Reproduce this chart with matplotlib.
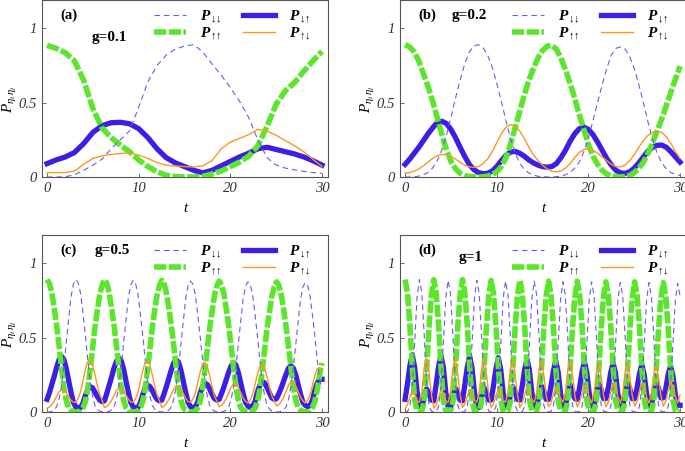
import numpy as np
import matplotlib
matplotlib.use("Agg")
import matplotlib.pyplot as plt

plt.rcParams['font.family'] = ['Liberation Serif', 'DejaVu Serif']
plt.rcParams['mathtext.fontset'] = 'custom'
plt.rcParams['mathtext.rm'] = 'Liberation Serif'
plt.rcParams['mathtext.it'] = 'Liberation Serif:italic'
plt.rcParams['mathtext.bf'] = 'Liberation Serif:bold'
plt.rcParams['mathtext.bfit'] = 'Liberation Serif:bold:italic'

# %% data
# panel (a), g=0.1
t_a = np.arange(0, 31, 1.0)
pdd_a = [0.0, 0.0, 0.002, 0.015, 0.045, 0.08, 0.12, 0.19, 0.25, 0.31, 0.47, 0.64, 0.75, 0.82, 0.86, 0.88,
         0.89, 0.84, 0.76, 0.685, 0.60, 0.51, 0.40, 0.25, 0.13, 0.08, 0.06, 0.048, 0.038, 0.03, 0.025]
puu_a = [0.885, 0.865, 0.835, 0.78, 0.65, 0.46, 0.33, 0.265, 0.215, 0.17, 0.115, 0.07, 0.035, 0.012, 0.003, 0.0,
         0.0, 0.005, 0.02, 0.04, 0.07, 0.10, 0.14, 0.21, 0.34, 0.49, 0.58, 0.635, 0.71, 0.78, 0.845]
pdu_a = [0.09, 0.115, 0.135, 0.165, 0.225, 0.30, 0.345, 0.365, 0.368, 0.358, 0.325, 0.265, 0.19, 0.13, 0.095, 0.07,
         0.045, 0.028, 0.045, 0.075, 0.105, 0.135, 0.16, 0.19, 0.20, 0.185, 0.17, 0.155, 0.135, 0.11, 0.08]
pud_a = [0.03, 0.03, 0.03, 0.04, 0.085, 0.125, 0.143, 0.152, 0.158, 0.162, 0.148, 0.125, 0.097, 0.08, 0.074, 0.07,
         0.068, 0.075, 0.11, 0.19, 0.235, 0.26, 0.285, 0.32, 0.31, 0.28, 0.245, 0.21, 0.17, 0.12, 0.07]

# panel (b), g=0.2
t_b = np.arange(0, 30.5, 0.5)
pdd_b = [0.0, 0.0, 0.002, 0.006, 0.015, 0.03, 0.06, 0.11, 0.18, 0.28, 0.40, 0.53, 0.65, 0.76, 0.84, 0.88,
         0.89, 0.87, 0.82, 0.74, 0.63, 0.51, 0.38, 0.26, 0.16, 0.095, 0.05, 0.027, 0.013, 0.005, 0.002, 0.0,
         0.0, 0.002, 0.006, 0.015, 0.03, 0.06, 0.10, 0.17, 0.26, 0.38, 0.50, 0.62, 0.73, 0.82, 0.865, 0.875,
         0.86, 0.81, 0.73, 0.62, 0.50, 0.37, 0.25, 0.16, 0.095, 0.055, 0.03, 0.018, 0.01]
puu_b = [0.89, 0.875, 0.84, 0.78, 0.695, 0.61, 0.51, 0.40, 0.29, 0.185, 0.105, 0.055, 0.025, 0.01, 0.004, 0.001,
         0.0, 0.002, 0.006, 0.015, 0.035, 0.07, 0.13, 0.22, 0.33, 0.44, 0.55, 0.65, 0.73, 0.80, 0.85, 0.88,
         0.885, 0.86, 0.80, 0.72, 0.63, 0.53, 0.42, 0.32, 0.22, 0.14, 0.085, 0.045, 0.02, 0.008, 0.003, 0.001,
         0.003, 0.01, 0.03, 0.06, 0.10, 0.16, 0.23, 0.31, 0.39, 0.48, 0.57, 0.66, 0.745]
pdu_b = [0.085, 0.12, 0.16, 0.20, 0.245, 0.29, 0.33, 0.365, 0.375, 0.36, 0.32, 0.265, 0.20, 0.14, 0.085, 0.05,
         0.03, 0.022, 0.025, 0.04, 0.07, 0.11, 0.145, 0.168, 0.172, 0.16, 0.14, 0.115, 0.095, 0.08, 0.07, 0.066,
         0.07, 0.09, 0.13, 0.18, 0.24, 0.29, 0.325, 0.335, 0.32, 0.285, 0.235, 0.18, 0.125, 0.08, 0.045, 0.028,
         0.025, 0.035, 0.06, 0.095, 0.135, 0.175, 0.20, 0.213, 0.215, 0.20, 0.17, 0.135, 0.10]
pud_b = [0.025, 0.03, 0.04, 0.055, 0.075, 0.10, 0.125, 0.143, 0.152, 0.15, 0.14, 0.12, 0.10, 0.08, 0.068, 0.065,
         0.07, 0.09, 0.12, 0.17, 0.23, 0.29, 0.335, 0.352, 0.345, 0.31, 0.26, 0.20, 0.15, 0.11, 0.08, 0.055,
         0.04, 0.035, 0.04, 0.06, 0.09, 0.13, 0.165, 0.185, 0.19, 0.18, 0.16, 0.135, 0.11, 0.085, 0.07, 0.068,
         0.08, 0.11, 0.15, 0.20, 0.245, 0.28, 0.30, 0.31, 0.30, 0.27, 0.225, 0.17, 0.125]

# panel (c), g=0.5
t_c = np.linspace(0, 30, 116)
pdd_c = [0.0, 0.0, 0.004, 0.014, 0.035, 0.085, 0.17, 0.30, 0.46, 0.62, 0.77, 0.86,
         0.89, 0.87, 0.80, 0.67, 0.52, 0.36, 0.20, 0.11, 0.045, 0.02, 0.006, 0.002,
         0.0, 0.0, 0.004, 0.014, 0.035, 0.085, 0.17, 0.30, 0.46, 0.615, 0.765, 0.855,
         0.885, 0.865, 0.795, 0.665, 0.52, 0.36, 0.20, 0.11, 0.045, 0.02, 0.006, 0.002,
         0.0, 0.0, 0.004, 0.014, 0.035, 0.085, 0.17, 0.30, 0.455, 0.61, 0.765, 0.85,
         0.88, 0.86, 0.79, 0.66, 0.515, 0.355, 0.20, 0.11, 0.045, 0.02, 0.006, 0.002,
         0.0, 0.0, 0.004, 0.014, 0.035, 0.085, 0.17, 0.30, 0.455, 0.61, 0.76, 0.845,
         0.875, 0.855, 0.785, 0.655, 0.51, 0.35, 0.20, 0.11, 0.045, 0.02, 0.006, 0.002,
         0.0, 0.0, 0.004, 0.014, 0.035, 0.085, 0.17, 0.30, 0.45, 0.605, 0.755, 0.84,
         0.87, 0.85, 0.78, 0.65, 0.51, 0.35, 0.22, 0.16]
puu_c = [0.89, 0.865, 0.80, 0.70, 0.585, 0.45, 0.305, 0.17, 0.08, 0.03, 0.01, 0.003,
         0.0, 0.002, 0.008, 0.027, 0.068, 0.15, 0.28, 0.42, 0.565, 0.68, 0.785, 0.85,
         0.89, 0.865, 0.80, 0.70, 0.585, 0.45, 0.305, 0.17, 0.08, 0.03, 0.01, 0.003,
         0.0, 0.002, 0.008, 0.027, 0.07, 0.15, 0.28, 0.42, 0.565, 0.68, 0.785, 0.85,
         0.885, 0.86, 0.795, 0.695, 0.58, 0.445, 0.30, 0.17, 0.08, 0.03, 0.01, 0.003,
         0.0, 0.002, 0.008, 0.027, 0.07, 0.15, 0.28, 0.42, 0.56, 0.675, 0.78, 0.845,
         0.88, 0.855, 0.79, 0.69, 0.575, 0.44, 0.30, 0.17, 0.08, 0.03, 0.012, 0.004,
         0.0, 0.002, 0.008, 0.027, 0.07, 0.15, 0.28, 0.42, 0.56, 0.67, 0.775, 0.84,
         0.875, 0.85, 0.785, 0.685, 0.57, 0.435, 0.30, 0.17, 0.08, 0.03, 0.012, 0.004,
         0.0, 0.003, 0.01, 0.03, 0.07, 0.15, 0.25, 0.33]
pdu_c = [0.085, 0.13, 0.185, 0.24, 0.30, 0.35, 0.375, 0.355, 0.295, 0.215, 0.135, 0.065,
         0.035, 0.022, 0.03, 0.058, 0.11, 0.15, 0.17, 0.163, 0.135, 0.105, 0.08, 0.07,
         0.075, 0.125, 0.18, 0.235, 0.295, 0.34, 0.365, 0.345, 0.29, 0.21, 0.135, 0.065,
         0.035, 0.023, 0.03, 0.06, 0.115, 0.16, 0.18, 0.172, 0.145, 0.112, 0.085, 0.075,
         0.08, 0.125, 0.175, 0.23, 0.285, 0.33, 0.35, 0.335, 0.28, 0.205, 0.13, 0.065,
         0.035, 0.025, 0.035, 0.065, 0.125, 0.17, 0.195, 0.185, 0.155, 0.12, 0.09, 0.08,
         0.085, 0.125, 0.17, 0.22, 0.27, 0.31, 0.33, 0.315, 0.265, 0.195, 0.125, 0.065,
         0.04, 0.03, 0.04, 0.07, 0.135, 0.18, 0.205, 0.195, 0.165, 0.128, 0.095, 0.085,
         0.09, 0.125, 0.165, 0.21, 0.255, 0.295, 0.31, 0.295, 0.25, 0.185, 0.12, 0.065,
         0.045, 0.035, 0.045, 0.08, 0.145, 0.195, 0.22, 0.22]
pud_c = [0.025, 0.033, 0.05, 0.073, 0.105, 0.135, 0.15, 0.148, 0.13, 0.105, 0.078, 0.066,
         0.065, 0.09, 0.135, 0.205, 0.285, 0.34, 0.35, 0.32, 0.255, 0.18, 0.12, 0.08,
         0.03, 0.037, 0.055, 0.078, 0.11, 0.143, 0.16, 0.158, 0.14, 0.112, 0.085, 0.068,
         0.065, 0.088, 0.13, 0.20, 0.275, 0.333, 0.345, 0.315, 0.25, 0.177, 0.115, 0.075,
         0.03, 0.04, 0.06, 0.085, 0.12, 0.155, 0.175, 0.172, 0.155, 0.123, 0.09, 0.07,
         0.065, 0.086, 0.125, 0.195, 0.265, 0.322, 0.335, 0.307, 0.245, 0.173, 0.11, 0.072,
         0.035, 0.045, 0.065, 0.092, 0.13, 0.168, 0.19, 0.187, 0.165, 0.13, 0.095, 0.072,
         0.06, 0.082, 0.12, 0.187, 0.255, 0.308, 0.32, 0.293, 0.235, 0.167, 0.11, 0.072,
         0.04, 0.05, 0.07, 0.10, 0.14, 0.18, 0.205, 0.202, 0.175, 0.138, 0.10, 0.075,
         0.06, 0.08, 0.115, 0.18, 0.245, 0.29, 0.30, 0.29]

# panel (d), g=1
t_d = np.linspace(0, 30, 116)
pdd_d = [0.0, 0.004, 0.035, 0.17, 0.46, 0.77, 0.89, 0.80, 0.52, 0.20, 0.045, 0.006,
         0.0, 0.004, 0.035, 0.17, 0.46, 0.765, 0.885, 0.795, 0.515, 0.20, 0.045, 0.006,
         0.0, 0.004, 0.035, 0.17, 0.46, 0.765, 0.885, 0.795, 0.515, 0.20, 0.045, 0.006,
         0.0, 0.004, 0.035, 0.17, 0.455, 0.76, 0.88, 0.79, 0.515, 0.20, 0.045, 0.006,
         0.0, 0.004, 0.035, 0.17, 0.455, 0.76, 0.88, 0.79, 0.515, 0.20, 0.045, 0.006,
         0.0, 0.004, 0.035, 0.17, 0.455, 0.755, 0.875, 0.785, 0.51, 0.20, 0.045, 0.006,
         0.0, 0.004, 0.035, 0.17, 0.455, 0.755, 0.875, 0.785, 0.51, 0.20, 0.045, 0.006,
         0.0, 0.004, 0.035, 0.17, 0.45, 0.755, 0.87, 0.78, 0.51, 0.20, 0.045, 0.006,
         0.0, 0.004, 0.035, 0.17, 0.45, 0.755, 0.87, 0.78, 0.51, 0.20, 0.045, 0.006,
         0.0, 0.004, 0.035, 0.17, 0.45, 0.75, 0.865, 0.78]
puu_d = [0.89, 0.80, 0.585, 0.305, 0.08, 0.01, 0.0, 0.008, 0.068, 0.28, 0.565, 0.785,
         0.89, 0.80, 0.585, 0.305, 0.08, 0.01, 0.0, 0.008, 0.068, 0.28, 0.565, 0.785,
         0.89, 0.80, 0.585, 0.305, 0.08, 0.01, 0.0, 0.008, 0.068, 0.28, 0.565, 0.785,
         0.885, 0.795, 0.58, 0.305, 0.08, 0.01, 0.0, 0.008, 0.068, 0.28, 0.56, 0.78,
         0.885, 0.795, 0.58, 0.305, 0.08, 0.01, 0.0, 0.008, 0.068, 0.28, 0.56, 0.78,
         0.88, 0.79, 0.58, 0.30, 0.08, 0.01, 0.0, 0.008, 0.07, 0.28, 0.56, 0.775,
         0.88, 0.79, 0.58, 0.30, 0.08, 0.01, 0.0, 0.008, 0.07, 0.28, 0.56, 0.775,
         0.875, 0.785, 0.575, 0.30, 0.08, 0.012, 0.0, 0.01, 0.07, 0.275, 0.555, 0.77,
         0.875, 0.785, 0.575, 0.30, 0.08, 0.012, 0.0, 0.01, 0.07, 0.275, 0.555, 0.77,
         0.87, 0.78, 0.57, 0.30, 0.08, 0.012, 0.0, 0.01]
pdu_d = [0.085, 0.19, 0.31, 0.385, 0.30, 0.14, 0.035, 0.03, 0.10, 0.155, 0.125, 0.08,
         0.075, 0.185, 0.305, 0.38, 0.30, 0.135, 0.035, 0.03, 0.105, 0.16, 0.13, 0.08,
         0.075, 0.185, 0.30, 0.375, 0.295, 0.135, 0.035, 0.03, 0.105, 0.165, 0.13, 0.08,
         0.08, 0.18, 0.29, 0.365, 0.285, 0.13, 0.035, 0.035, 0.11, 0.17, 0.135, 0.085,
         0.08, 0.175, 0.285, 0.355, 0.28, 0.13, 0.035, 0.035, 0.115, 0.175, 0.14, 0.085,
         0.085, 0.17, 0.275, 0.345, 0.27, 0.125, 0.04, 0.035, 0.12, 0.185, 0.145, 0.09,
         0.085, 0.165, 0.27, 0.34, 0.265, 0.125, 0.04, 0.04, 0.125, 0.19, 0.15, 0.09,
         0.09, 0.165, 0.265, 0.33, 0.26, 0.12, 0.04, 0.04, 0.125, 0.195, 0.155, 0.09,
         0.09, 0.16, 0.255, 0.32, 0.25, 0.12, 0.045, 0.04, 0.135, 0.205, 0.16, 0.095,
         0.095, 0.155, 0.25, 0.31, 0.245, 0.115, 0.045, 0.045]
pud_d = [0.025, 0.05, 0.10, 0.14, 0.12, 0.075, 0.065, 0.135, 0.295, 0.365, 0.265, 0.12,
         0.025, 0.05, 0.10, 0.145, 0.125, 0.075, 0.065, 0.135, 0.29, 0.36, 0.26, 0.12,
         0.03, 0.055, 0.105, 0.15, 0.13, 0.08, 0.065, 0.13, 0.29, 0.355, 0.26, 0.115,
         0.03, 0.055, 0.11, 0.155, 0.135, 0.08, 0.065, 0.13, 0.285, 0.35, 0.255, 0.115,
         0.03, 0.06, 0.115, 0.165, 0.14, 0.085, 0.065, 0.13, 0.28, 0.345, 0.25, 0.115,
         0.035, 0.06, 0.12, 0.17, 0.145, 0.09, 0.065, 0.125, 0.275, 0.34, 0.25, 0.11,
         0.035, 0.065, 0.125, 0.18, 0.155, 0.095, 0.06, 0.125, 0.265, 0.33, 0.24, 0.11,
         0.035, 0.065, 0.13, 0.19, 0.165, 0.10, 0.06, 0.12, 0.265, 0.325, 0.235, 0.11,
         0.04, 0.07, 0.135, 0.195, 0.17, 0.10, 0.06, 0.12, 0.255, 0.315, 0.23, 0.105,
         0.04, 0.07, 0.145, 0.205, 0.175, 0.105, 0.06, 0.115]

panels = [
    ('(a)', 'g=0.1', t_a, pdd_a, puu_a, pdu_a, pud_a),
    ('(b)', 'g=0.2', t_b, pdd_b, puu_b, pdu_b, pud_b),
    ('(c)', 'g=0.5', t_c, pdd_c, puu_c, pdu_c, pud_c),
    ('(d)', 'g=1', t_d, pdd_d, puu_d, pdu_d, pud_d),
]
xticks = [0, 10, 20, 30]
yticks = [0, 0.5, 1]
ytick_labels = ['0', '0.5', '1']
labels = [r'$\boldsymbol{P}_{\downarrow\!\!\!\downarrow}$', r'$\boldsymbol{P}_{\uparrow\!\!\!\uparrow}$',
          r'$\boldsymbol{P}_{\downarrow\!\!\!\uparrow}$', r'$\boldsymbol{P}_{\uparrow\!\!\!\downarrow}$']

# %% figure
fig = plt.figure(figsize=(6.85, 4.51), dpi=100)
boxes = [[0.0613, 0.6075, 0.4175, 0.3925], [0.584, 0.6075, 0.4175, 0.3925],
         [0.0613, 0.0865, 0.4175, 0.3925], [0.584, 0.0865, 0.4175, 0.3925]]
gpos = [(0.175, 0.79), (0.18, 0.915), (0.185, 0.915), (0.205, 0.87)]

c_green = '#5ae62a'
c_blue = '#3c1ee6'
c_blue_l = '#6a5af0'
c_orange = '#ff961e'

for i, (tag, gtxt, t, pdd, puu, pdu, pud) in enumerate(panels):
    ax = fig.add_axes(boxes[i])
    l_du, = ax.plot(t, pdu, color=c_blue, lw=3.8, zorder=2)
    l_uu, = ax.plot(t, puu, color=c_green, lw=4.0, dashes=(2.2, 0.45), zorder=3)
    l_dd, = ax.plot(t, pdd, color=c_blue_l, lw=0.8, dashes=(5, 3.5), zorder=4)
    l_ud, = ax.plot(t, pud, color=c_orange, lw=1.0, zorder=5)

    ax.set_xlim(-0.55, 30.65)
    ax.set_ylim(0, 1.19)
    ax.set_xticks(xticks)
    ax.set_xticklabels([str(v) for v in xticks], fontstyle='italic', fontsize=10.5, color='#333333')
    ax.set_yticks(yticks)
    ax.set_yticklabels(ytick_labels, fontstyle='italic', fontsize=10.5, color='#333333')
    ax.tick_params(direction='in', length=3, width=0.6, pad=3.5, color='#555555')
    for s in ax.spines.values():
        s.set_color('#555555')
        s.set_linewidth(0.8)

    ax.set_xlabel('t', fontstyle='italic', fontsize=11)
    ax.xaxis.set_label_coords(0.5, -0.14)
    ax.set_ylabel(r'$P_{\eta_i\,\eta_j}$', fontsize=11)
    ax.yaxis.set_label_coords(-0.08, 0.44)

    ax.text(0.063, 0.915, tag, transform=ax.transAxes, fontweight='bold', fontsize=10.5, va='center')
    ax.text(gpos[i][0], gpos[i][1], gtxt, transform=ax.transAxes, fontweight='bold', fontsize=11, va='center')

    ax.legend([l_dd, l_uu, l_du, l_ud], labels, ncol=2, frameon=False,
              loc='upper left', bbox_to_anchor=(0.365, 0.995), fontsize=11, borderpad=0,
              handlelength=2.1, handletextpad=0.9, columnspacing=1.4, labelspacing=0.05)

fig.savefig('out.png', dpi=100)
